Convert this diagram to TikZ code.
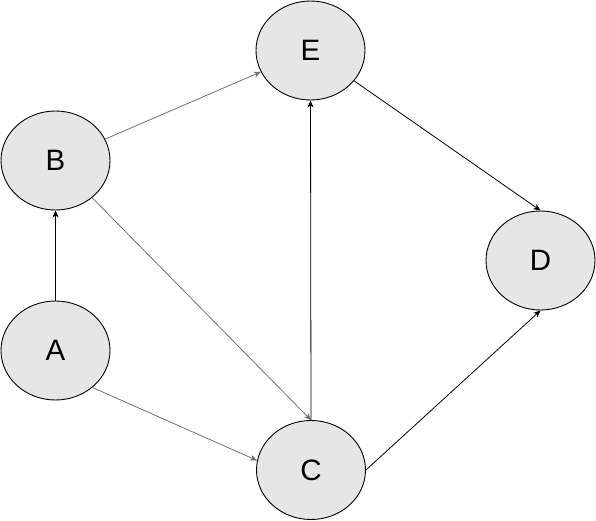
\documentclass[tikz,border=0pt]{standalone}
\usepackage{fontspec}
\setmainfont{Liberation Sans}
\usetikzlibrary{arrows.meta,shapes.geometric}
\begin{document}
\begin{tikzpicture}[x=1pt,y=-1pt,
  vertex/.style={ellipse,draw=black,line width=0.9pt,fill=nodegray,minimum width=109pt,minimum height=99pt,inner sep=0pt,font=\fontsize{29.5}{34}\selectfont},
  edgeblack/.style={draw=black,line width=0.8pt,-{Stealth[length=7pt,width=6pt,inset=2pt]}},
  edgegray/.style={draw=edgecol,line width=0.8pt,-{Stealth[length=7pt,width=6pt,inset=2pt]}}]
\definecolor{nodegray}{HTML}{E6E6E6}
\definecolor{edgecol}{HTML}{707070}
\useasboundingbox (0,0) rectangle (596,521);
\node[vertex] (E) at (310.5,50.5) {E};
\node[vertex] (B) at (55.5,160.5) {B};
\node[vertex] (A) at (55.5,350.5) {A};
\node[vertex] (C) at (311,470) {C};
\node[vertex] (D) at (540.5,260.5) {D};
\draw[edgeblack] (A) -- (B);
\draw[edgegray] (B) -- (E);
\draw[edgegray] (B) -- (C.north);
\draw[edgegray] (A.-45) -- (C.170);
\draw[edgeblack] (C.north) -- (E.south);
\draw[edgeblack] (E) -- (D.north);
\draw[edgeblack] (C.east) -- (D.south);
\end{tikzpicture}
\end{document}
